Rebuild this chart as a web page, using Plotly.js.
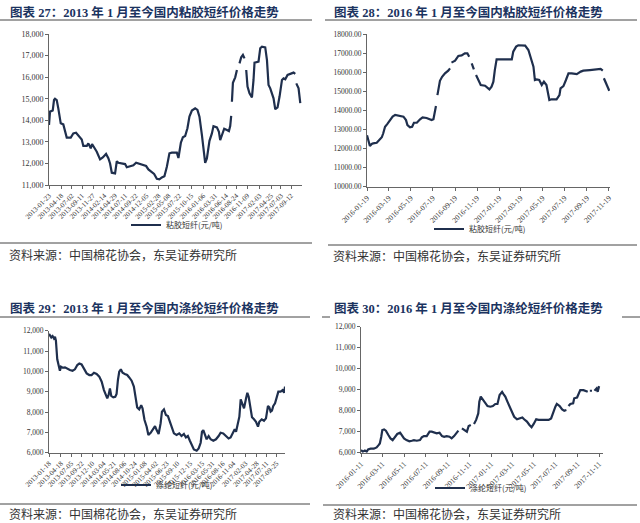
<!DOCTYPE html>
<html><head><meta charset="utf-8">
<script src="https://cdn.plot.ly/plotly-3.0.1.min.js"></script>
<style>html,body{margin:0;padding:0;background:#fff}#c{width:640px;height:523px}</style>
</head><body><div id="c"></div>
<script>
// ---------- data ----------
const titles = ['图表 27：2013 年 1 月至今国内粘胶短纤价格走势','图表 28：2016 年 1 月至今国内粘胶短纤价格走势',
                '图表 29：2013 年 1 月至今国内涤纶短纤价格走势','图表 30：2016 年 1 月至今国内涤纶短纤价格走势'];
const sourceText = '资料来源：中国棉花协会，东吴证券研究所';
const seriesNames = ['粘胶短纤(元/吨)','粘胶短纤(元/吨)','涤纶短纤(元/吨)','涤纶短纤(元/吨)'];

const dates1 = [
'2013-01-23','2013-01-30','2013-02-18','2013-02-27','2013-03-06','2013-03-18','2013-03-29','2013-04-15','2013-05-03','2013-05-15',
'2013-05-27','2013-06-24','2013-07-12','2013-07-31','2013-08-23','2013-09-09','2013-09-20','2013-10-14','2013-10-25','2013-11-11',
'2013-11-20','2013-12-04','2013-12-23','2014-01-15','2014-02-03','2014-02-26','2014-03-14','2014-03-26','2014-04-07','2014-04-30',
'2014-05-12','2014-05-23','2014-06-16','2014-07-09','2014-07-21','2014-08-13','2014-09-05','2014-09-24','2014-10-10','2014-11-03',
'2014-12-03','2014-12-19','2015-01-12','2015-01-28','2015-02-16','2015-03-06','2015-03-23','2015-04-10','2015-04-27','2015-05-15',
'2015-06-01','2015-07-06','2015-07-17','2015-07-22','2015-08-03','2015-08-17','2015-09-02','2015-09-18','2015-10-02','2015-10-19',
'2015-11-11','2015-11-27','2015-12-11','2015-12-28','2016-01-08','2016-01-20','2016-02-01','2016-02-19','2016-03-07','2016-03-18',
'2016-04-11','2016-04-25','2016-05-04','2016-05-16','2016-06-01','2016-06-20','2016-07-04','2016-07-13','2016-07-20','2016-07-22',
'2016-07-25','2016-08-01','2016-08-17','2016-08-29','2016-09-05','2016-09-16','2016-09-28','2016-10-10','2016-10-21','2016-10-27',
'2016-11-02','2016-11-11','2016-11-25','2016-12-12','2016-12-23','2016-12-30','2017-01-27','2017-02-08','2017-02-20','2017-03-15',
'2017-03-27','2017-04-07','2017-04-19','2017-05-12','2017-05-24','2017-06-09','2017-06-23','2017-07-10','2017-07-21','2017-08-02',
'2017-08-18','2017-09-06','2017-09-29','2017-10-11','2017-10-14','2017-10-18','2017-11-03','2017-11-15'];
const vals1 = [
13780,14400,14450,14940,15000,14940,14550,13860,13810,13550,
13200,13200,13390,13420,13240,13110,12810,12810,12930,12700,
12900,12740,12540,12190,12280,12440,12240,12000,11570,11540,
12100,12030,12000,11970,11820,11850,11910,12030,12000,11970,
11880,11720,11570,11510,11290,11260,11350,11410,11850,12470,
12500,12500,12250,12500,12960,13210,13270,13630,14170,14450,
14550,14480,14170,13320,12700,12030,12230,13050,13390,13730,
13670,13470,13080,13320,13610,13550,13500,13730,14200,null,
14860,15740,15990,16330,null,16640,16920,17030,16870,null,
16330,15560,15250,15060,15870,16670,16720,17340,17410,17380,
16790,15640,15480,15020,14510,14600,15100,15870,15940,15900,
16100,16150,16210,16150,null,15710,15480,14790];

const dates2 = [
'2016-01-19','2016-01-23','2016-01-27','2016-02-01','2016-02-05','2016-02-15','2016-02-22','2016-02-29','2016-03-04','2016-03-09',
'2016-03-15','2016-03-23','2016-03-30','2016-04-06','2016-04-19','2016-04-29','2016-05-06','2016-05-10','2016-05-17','2016-05-23',
'2016-05-28','2016-06-05','2016-06-14','2016-06-21','2016-07-02','2016-07-10','2016-07-16','2016-07-21','2016-07-25','2016-07-28',
'2016-07-30','2016-08-01','2016-08-04','2016-08-08','2016-08-14','2016-08-22','2016-08-31','2016-09-05','2016-09-07','2016-09-09',
'2016-09-19','2016-09-28','2016-10-07','2016-10-16','2016-10-23','2016-10-28','2016-10-31','2016-11-04','2016-11-10','2016-11-13',
'2016-11-16','2016-11-22','2016-11-29','2016-12-11','2016-12-17','2016-12-23','2016-12-29','2017-01-03','2017-01-07','2017-01-12',
'2017-01-31','2017-02-23','2017-02-27','2017-03-07','2017-03-13','2017-04-01','2017-04-10','2017-04-16','2017-04-24','2017-04-28',
'2017-05-03','2017-05-10','2017-05-17','2017-05-23','2017-05-30','2017-06-07','2017-06-13','2017-06-27','2017-07-05','2017-07-08',
'2017-07-16','2017-07-23','2017-07-30','2017-08-08','2017-08-22','2017-09-02','2017-09-09','2017-09-27','2017-10-16','2017-10-27',
'2017-11-02','2017-11-03','2017-11-05','2017-11-13','2017-11-20'];
const vals2 = [
12700,12450,12130,12240,12270,12300,12450,12590,12800,13140,
13280,13490,13670,13760,13700,13670,13490,13230,13110,13140,
13350,13350,13530,13630,13600,13550,13490,13530,13840,14230,
null,14800,15150,15550,15760,15940,16080,16200,null,16500,
16600,16850,16880,16990,16990,16810,null,16460,16150,null,
15850,15590,15330,15290,15210,15100,15240,15500,16110,16670,
16670,16670,17070,17340,17410,17390,17160,16810,16290,15590,
15620,15590,15330,15500,15330,14540,14580,14580,14800,15150,
15270,15590,15940,15940,15900,16030,16080,16110,16170,16170,
16080,null,15680,15330,15030];

const dates3 = [
'2013-01-18','2013-01-25','2013-02-04','2013-02-14','2013-02-24','2013-03-04','2013-03-11','2013-03-21','2013-03-31','2013-04-10',
'2013-04-18','2013-04-30','2013-05-18','2013-06-04','2013-06-24','2013-07-14','2013-08-01','2013-08-19','2013-09-03','2013-09-20',
'2013-10-08','2013-10-28','2013-11-17','2013-12-04','2013-12-22','2014-01-11','2014-01-31','2014-02-18','2014-03-07','2014-03-22',
'2014-04-01','2014-04-11','2014-04-21','2014-05-01','2014-05-16','2014-05-31','2014-06-10','2014-06-20','2014-06-30','2014-07-12',
'2014-07-25','2014-08-11','2014-08-29','2014-09-13','2014-10-01','2014-10-18','2014-11-02','2014-11-12','2014-11-27','2014-12-12',
'2014-12-22','2015-01-06','2015-01-22','2015-02-04','2015-02-21','2015-03-08','2015-03-26','2015-04-07','2015-04-22','2015-05-07',
'2015-05-17','2015-06-01','2015-06-16','2015-07-01','2015-07-16','2015-07-31','2015-08-15','2015-09-04','2015-09-24','2015-10-11',
'2015-10-29','2015-11-13','2015-11-28','2015-12-13','2015-12-28','2016-01-12','2016-02-02','2016-02-17','2016-03-03','2016-03-13',
'2016-03-23','2016-04-05','2016-04-17','2016-05-02','2016-05-17','2016-06-06','2016-06-26','2016-07-16','2016-07-31','2016-08-20',
'2016-09-09','2016-09-29','2016-10-14','2016-10-30','2016-11-14','2016-11-24','2016-12-09','2016-12-19','2016-12-29','2017-01-08',
'2017-01-23','2017-02-07','2017-02-17','2017-02-27','2017-03-09','2017-03-24','2017-04-08','2017-04-23','2017-05-08','2017-05-18',
'2017-06-05','2017-06-22','2017-07-07','2017-07-22','2017-08-01','2017-08-11','2017-08-21','2017-08-31','2017-09-13','2017-09-25',
'2017-10-08','2017-10-25','2017-11-09','2017-11-20','2017-11-27'];
const vals3 = [
11840,11740,11670,11740,11620,11700,11510,10590,10230,10030,
10230,10180,10200,10130,10070,10030,10100,10310,10390,10340,
10150,9900,9820,9820,9930,9870,9740,9490,9080,8840,
8670,8840,9160,8790,8720,8750,8890,9570,9980,10100,
9930,9870,9820,9700,9540,9250,8670,8230,8130,8340,
8180,7610,7280,6870,6980,7110,7310,7110,6920,7440,
8020,8130,7850,7800,7520,7280,6950,6870,6950,6820,
6920,6750,6820,6590,6330,6160,6100,6210,6490,7030,
7110,6920,6660,6820,6660,6590,6660,6820,6980,6950,
6820,6700,6750,6980,7150,7030,7410,7770,8620,8430,
8180,8670,8950,8750,8340,7740,7640,7520,7280,7520,
7640,7570,7690,8300,8230,8020,8070,8300,8430,8750,
9000,9000,9080,8950,9250];

const dates4 = [
'2016-01-11','2016-01-16','2016-01-22','2016-01-27','2016-01-31','2016-02-07','2016-02-16','2016-02-24','2016-03-01','2016-03-04',
'2016-03-08','2016-03-11','2016-03-16','2016-03-21','2016-03-28','2016-04-03','2016-04-09','2016-04-16','2016-04-22','2016-04-30',
'2016-05-05','2016-05-11','2016-05-18','2016-05-26','2016-06-02','2016-06-08','2016-06-16','2016-06-25','2016-06-30','2016-07-06',
'2016-07-14','2016-07-22','2016-07-28','2016-08-04','2016-08-11','2016-08-19','2016-08-26','2016-09-01','2016-09-08','2016-09-16',
'2016-09-22','2016-09-29','2016-10-05','2016-10-11','2016-10-16','2016-10-21','2016-10-27','2016-11-04','2016-11-09','2016-11-15',
'2016-11-20','2016-11-24','2016-11-30','2016-12-06','2016-12-09','2016-12-13','2016-12-19','2016-12-25','2017-01-01','2017-01-09',
'2017-01-16','2017-01-23','2017-01-29','2017-02-04','2017-02-11','2017-02-15','2017-02-20','2017-02-26','2017-03-04','2017-03-11',
'2017-03-17','2017-03-25','2017-04-01','2017-04-09','2017-04-14','2017-04-22','2017-04-29','2017-05-05','2017-05-11','2017-05-18',
'2017-05-25','2017-06-01','2017-06-08','2017-06-15','2017-06-22','2017-06-29','2017-07-04','2017-07-11','2017-07-15','2017-07-23',
'2017-07-30','2017-08-05','2017-08-11','2017-08-14','2017-08-17','2017-08-22','2017-08-30','2017-09-02','2017-09-10','2017-09-15',
'2017-09-19','2017-09-28','2017-10-06','2017-10-10','2017-10-13','2017-10-16','2017-10-22','2017-10-26','2017-10-29','2017-11-04',
'2017-11-07','2017-11-11'];
const vals4 = [
6130,6050,6100,6050,6160,6190,6190,6250,6370,6440,
6760,7080,7110,7050,6840,6680,6600,6760,6890,6950,
6840,6680,6600,6540,6570,6600,6570,6600,6730,6790,
6790,7000,7000,6950,6920,6950,6790,6760,6790,6760,
6680,6790,6920,7050,null,7160,7080,7000,7270,7320,
null,7370,7560,7870,8430,8670,8510,8350,8220,8190,
8220,8320,8320,8750,8900,8790,8670,8430,8190,7870,
7710,7590,7630,7680,7590,7480,7320,7210,7370,7590,
7560,7560,7590,7590,7560,7630,7900,8190,8320,8220,
8060,8000,8030,null,8220,8320,8350,8590,8630,8790,
8980,8980,8950,8900,null,8950,8950,null,8950,9060,
8900,9170];

const ticks1 = ['2013-01-23','2013-04-18','2013-07-02','2013-09-11','2013-11-27','2014-02-14','2014-04-29','2014-07-11',
 '2014-09-22','2014-12-05','2015-02-28','2015-05-08','2015-07-22','2015-10-15','2016-01-06','2016-03-31','2016-06-14',
 '2016-08-24','2016-11-09','2017-02-03','2017-04-25','2017-07-03','2017-09-12'];
const ticks2 = ['2016-01-19','2016-03-19','2016-05-19','2016-07-19','2016-09-19','2016-11-19','2017-01-19','2017-03-19',
 '2017-05-19','2017-07-19','2017-09-19','2017-11-19'];
const ticks3 = ['2013-01-18','2013-04-18','2013-07-05','2013-09-22','2013-12-10','2014-03-04','2014-05-21','2014-08-06',
 '2014-10-24','2015-01-08','2015-04-02','2015-06-23','2015-09-10','2015-12-15','2016-03-15','2016-05-31','2016-08-16',
 '2016-11-04','2017-02-03','2017-04-28','2017-07-11','2017-09-25'];
const ticks4 = ['2016-01-11','2016-03-11','2016-05-11','2016-07-11','2016-09-11','2016-11-11','2017-01-11','2017-03-11',
 '2017-05-11','2017-07-11','2017-09-11','2017-11-11'];

// ---------- chart ----------
const W = 640, H = 523;
const px = v => v / W, py = v => 1 - v / H;
const lineColor = '#1f2f4d';
const serif = '"Liberation Serif", "Times New Roman", "Noto Sans CJK SC", serif';
const cjk = '"Noto Sans CJK SC", sans-serif';

const allDates = [dates1, dates2, dates3, dates4];
const allVals = [vals1, vals2, vals3, vals4];
const traces = allDates.map((d, i) => ({
  type: 'scatter', mode: 'lines', x: d, y: allVals[i], name: seriesNames[i],
  xaxis: i === 0 ? 'x' : 'x' + (i + 1), yaxis: i === 0 ? 'y' : 'y' + (i + 1),
  legend: i === 0 ? 'legend' : 'legend' + (i + 1),
  line: {color: lineColor, width: 2.2}, connectgaps: false, showlegend: true
}));

function xax(dom, ticks, range, fs, anchor) {
  return {domain: dom, type: 'date', range: range, tickvals: ticks, ticktext: ticks, tickangle: -45, anchor: anchor,
    showgrid: false, zeroline: false, showline: true, linecolor: '#666', linewidth: 1,
    ticks: 'outside', ticklen: 3, tickcolor: '#666', tickfont: {family: serif, size: fs, color: '#333'}, fixedrange: true};
}
function yax(dom, range, fmt, fs, anchor) {
  return {domain: dom, range: range, dtick: 1000, tickformat: fmt, anchor: anchor,
    showgrid: false, zeroline: false, showline: true, linecolor: '#666', linewidth: 1,
    ticks: 'outside', ticklen: 3, tickcolor: '#666', tickfont: {family: serif, size: fs, color: '#333'}, fixedrange: true};
}

const legendStyle = (x, y) => ({x: x, y: y, xanchor: 'left', yanchor: 'middle', orientation: 'h',
  bgcolor: 'rgba(0,0,0,0)', font: {family: cjk, size: 8, color: '#333'}, itemwidth: 30});

const lineShape = (x0, x1, y) => ({type: 'line', xref: 'paper', yref: 'paper', x0: px(x0), x1: px(x1), y0: py(y), y1: py(y),
  line: {color: '#444', width: 1}});

const titleAnn = (t, x, y) => ({text: t, xref: 'paper', yref: 'paper', x: px(x), y: py(y), xanchor: 'left', yanchor: 'middle',
  showarrow: false, font: {family: serif, size: 12.5, color: '#1b3360', weight: 'bold'}});
const srcAnn = (x, y) => ({text: sourceText, xref: 'paper', yref: 'paper', x: px(x), y: py(y), xanchor: 'left', yanchor: 'middle',
  showarrow: false, borderpad: 0, font: {family: cjk, size: 12, color: '#333'}});

const layout = {
  width: W, height: H, margin: {l: 0, r: 0, t: 0, b: 0},
  paper_bgcolor: '#fff', plot_bgcolor: '#fff',
  xaxis: xax([px(49), px(302)], ticks1, ['2013-01-23', '2017-11-27'], 7, 'y'),
  yaxis: yax([py(185), py(34)], [11000, 18000], ',d', 8, 'x'),
  xaxis2: xax([px(367), px(610)], ticks2, ['2016-01-19', '2017-11-22'], 7.5, 'y2'),
  yaxis2: yax([py(186.7), py(34)], [10000, 18000], '.2f', 7.5, 'x2'),
  xaxis3: xax([px(49), px(285)], ticks3, ['2013-01-18', '2017-11-27'], 7, 'y3'),
  yaxis3: yax([py(452.7), py(330.7)], [6000, 12000], ',d', 7.5, 'x3'),
  xaxis4: xax([px(361), px(603)], ticks4, ['2016-01-11', '2017-11-22'], 7.5, 'y4'),
  yaxis4: yax([py(452.7), py(326.7)], [6000, 12000], ',d', 7.5, 'x4'),
  legend: legendStyle(px(126), py(225)),
  legend2: legendStyle(px(429), py(229)),
  legend3: legendStyle(px(116), py(485)),
  legend4: legendStyle(px(430), py(488)),
  shapes: [
    lineShape(0, 312, 20), lineShape(325, 637, 20),
    lineShape(0, 310, 317), lineShape(322, 330, 317), lineShape(622, 640, 317),
    lineShape(0, 312, 243), lineShape(328, 637, 245),
    lineShape(0, 310, 504), lineShape(323, 637, 505)
  ],
  annotations: [
    titleAnn(titles[0], 8, 12.7), titleAnn(titles[1], 332, 12.7),
    titleAnn(titles[2], 8, 308), titleAnn(titles[3], 332, 308),
    srcAnn(8, 254), srcAnn(332, 255), srcAnn(8, 513), srcAnn(332, 513)
  ]
};

Plotly.newPlot('c', traces, layout, {displayModeBar: false, staticPlot: true});
</script></body></html>
